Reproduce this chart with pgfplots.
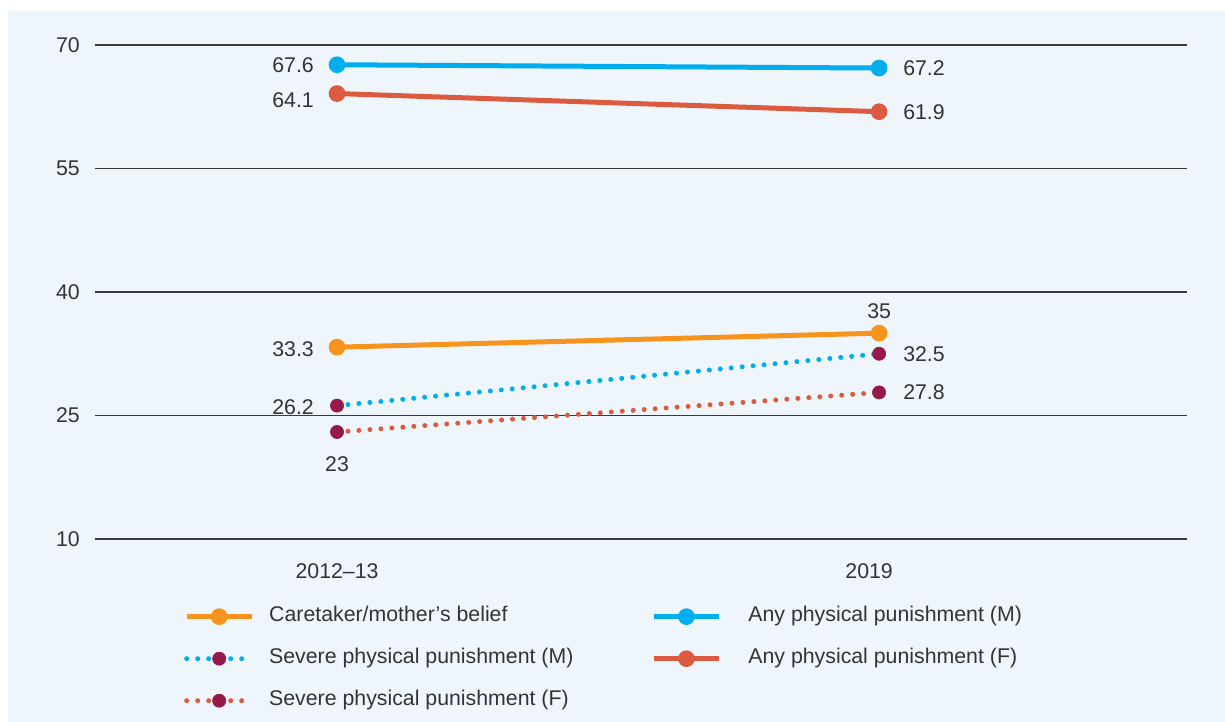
\documentclass[border=0pt]{standalone}
\usepackage{pgfplots}
\pgfplotsset{compat=1.18}
\usepackage{fontspec}
\setmainfont{Liberation Sans}
\definecolor{bgc}{HTML}{EEF6FC}
\definecolor{cblue}{HTML}{00AEEF}
\definecolor{cred}{HTML}{DC5A40}
\definecolor{corange}{HTML}{F7941D}
\definecolor{cmaroon}{HTML}{961A49}
\definecolor{txt}{HTML}{333333}
\definecolor{gridc}{HTML}{3A3A3A}
\newcommand{\fs}{\fontsize{21.3bp}{25bp}\selectfont}
\tikzset{lbl/.style={font=\fs, text=txt, inner sep=0pt}}
\begin{document}
\begin{tikzpicture}
\path (0,0) rectangle (1225bp,722bp);
\fill[bgc] (8bp,0) rectangle (1225bp,711bp);
\begin{axis}[
  at={(95bp,183bp)}, anchor=south west,
  scale only axis, width=1092bp, height=494bp,
  xmin=-0.4465, xmax=1.568, ymin=10, ymax=70,
  axis line style={draw=none},
  major tick length=0pt,
  ytick={10,25,40,55,70},
  ymajorgrids, major grid style={gridc, line width=1.1bp},
  xtick={0,1}, xticklabels={2012--13,\hspace*{-20bp}2019},
  /pgf/number format/assume math mode=true,
  tick label style={font=\fs, text=txt, inner sep=0pt},
  yticklabel style={xshift=-15bp},
  xticklabel style={yshift=-24bp},
  clip=false,
  legend columns=2,
  legend cell align=left,
  legend style={at={(axis description cs:0.0815,-0.1366)}, anchor=north west,
    draw=none, fill=none, inner sep=0pt, font=\fs, text=txt,
    nodes={inner sep=0pt, text height=15bp, text depth=5bp},
    row sep=22bp,
    /tikz/column 1/.style={column sep=15bp},
    /tikz/column 2/.style={column sep=78bp},
    /tikz/column 3/.style={column sep=27bp}},
  legend image code/.code={\draw[mark repeat=2,mark phase=2,#1] plot coordinates {(0bp,0bp) (32.5bp,0bp) (65bp,0bp)};},
  solidl/.style={line width=5bp, mark=*, mark size=5.8bp, mark options={line width=0pt}},
  dotl/.style={line width=5bp, dash pattern=on 0bp off 11bp, line cap=round, mark=*, mark size=6.6bp, mark options={solid, fill=cmaroon, draw=cmaroon, line width=0.6bp}},
]
\addplot[corange, solidl, mark options={fill=corange, draw=corange}] coordinates {(0,33.3) (1,35)};
\addlegendentry{Caretaker/mother’s belief}
\addplot[cblue, solidl, mark options={fill=cblue, draw=cblue}] coordinates {(0,67.6) (1,67.2)};
\addlegendentry{Any physical punishment (M)}
\addplot[cblue, dotl] coordinates {(0,26.2) (1,32.5)};
\addlegendentry{Severe physical punishment (M)}
\addplot[cred, solidl, mark options={fill=cred, draw=cred}] coordinates {(0,64.1) (1,61.9)};
\addlegendentry{Any physical punishment (F)}
\addplot[cred, dotl] coordinates {(0,23) (1,27.8)};
\addlegendentry{Severe physical punishment (F)}

\node[lbl, anchor=east, xshift=-23bp] at (axis cs:0,67.6) {67.6};
\node[lbl, anchor=east, xshift=-23bp, yshift=-7bp] at (axis cs:0,64.1) {64.1};
\node[lbl, anchor=east, xshift=-23bp, yshift=-2bp] at (axis cs:0,33.3) {33.3};
\node[lbl, anchor=east, xshift=-23bp, yshift=-2bp] at (axis cs:0,26.2) {26.2};
\node[lbl, yshift=-32bp] at (axis cs:0,23) {23};
\node[lbl, anchor=west, xshift=24bp] at (axis cs:1,67.2) {67.2};
\node[lbl, anchor=west, xshift=24bp] at (axis cs:1,61.9) {61.9};
\node[lbl, yshift=22bp] at (axis cs:1,35) {35};
\node[lbl, anchor=west, xshift=24bp] at (axis cs:1,32.5) {32.5};
\node[lbl, anchor=west, xshift=24bp] at (axis cs:1,27.8) {27.8};
\end{axis}
\end{tikzpicture}
\end{document}
